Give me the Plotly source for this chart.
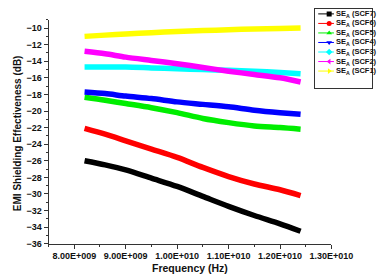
import plotly.graph_objects as go

# Frequency (GHz values converted to Hz)
freq_ghz = [8.2, 8.6, 9.0, 9.5, 10.0, 10.5, 11.0, 11.5, 12.0, 12.4]
freq = [f * 1e9 for f in freq_ghz]

scf7 = [-26.0, -26.5, -27.1, -28.1, -29.1, -30.3, -31.5, -32.6, -33.6, -34.5]
scf6 = [-22.1, -22.8, -23.6, -24.6, -25.6, -26.8, -27.9, -28.8, -29.5, -30.2]
scf5 = [-18.35, -18.7, -19.1, -19.6, -20.2, -20.9, -21.4, -21.8, -22.0, -22.2]
scf4 = [-17.7, -17.9, -18.2, -18.5, -18.9, -19.2, -19.5, -19.9, -20.2, -20.4]
scf3 = [-14.7, -14.7, -14.7, -14.8, -14.9, -15.0, -15.1, -15.2, -15.35, -15.5]
scf2 = [-12.8, -13.1, -13.5, -13.9, -14.3, -14.75, -15.2, -15.6, -16.0, -16.5]
scf1 = [-11.0, -10.85, -10.7, -10.55, -10.4, -10.3, -10.2, -10.1, -10.05, -10.0]

series_names = ["SCF7", "SCF6", "SCF5", "SCF4", "SCF3", "SCF2", "SCF1"]
series_values = [scf7, scf6, scf5, scf4, scf3, scf2, scf1]
colors = ["#000000", "#FF0000", "#00EE00", "#0000FF", "#00FFFF", "#FF00FF", "#FFFF00"]
symbols = ["square", "circle", "triangle-up", "triangle-down", "diamond",
           "triangle-left", "triangle-right"]

x_tickvals = [8e9, 9e9, 1e10, 1.1e10, 1.2e10, 1.3e10]
x_ticktext = ["8.00E+009", "9.00E+009", "1.00E+010", "1.10E+010", "1.20E+010", "1.30E+010"]
x_minor = [7.5e9, 8.5e9, 9.5e9, 1.05e10, 1.15e10, 1.25e10]

W, H = 386, 278
FONT = "Liberation Sans, Arial, sans-serif"

fig = go.Figure()

for name, vals, col in zip(series_names, series_values, colors):
    fig.add_trace(go.Scatter(
        x=freq, y=vals, mode="lines", name=name,
        line=dict(color=col, width=5.5, shape="spline", smoothing=0.8),
        showlegend=False, xaxis="x", yaxis="y"))

# custom compact legend (index-based rows)
for i, (name, col, sym) in enumerate(zip(series_names, colors, symbols)):
    fig.add_trace(go.Scatter(
        x=[0.05, 0.33], y=[i, i], mode="lines",
        line=dict(color=col, width=1), showlegend=False,
        xaxis="x2", yaxis="y2", hoverinfo="skip"))
    fig.add_trace(go.Scatter(
        x=[0.245], y=[i], mode="markers",
        marker=dict(color=col, symbol=sym, size=5, line=dict(width=0)),
        showlegend=False, xaxis="x2", yaxis="y2", hoverinfo="skip"))
    fig.add_annotation(
        x=0.34, y=i, xref="x2", yref="y2", xanchor="left", yanchor="middle",
        text="<b>SE<sub>A</sub> (%s)</b>" % name, showarrow=False,
        font=dict(size=7.5, color="#111111", family=FONT))

fig.update_layout(
    width=W, height=H,
    margin=dict(l=0, r=0, t=0, b=0),
    paper_bgcolor="white", plot_bgcolor="white",
    font=dict(family=FONT, color="#111111"),
    xaxis=dict(
        domain=[43 / W, 343 / W], range=[7.5e9, 1.3e10],
        tickmode="array", tickvals=x_tickvals, ticktext=x_ticktext,
        ticks="outside", ticklen=4, tickwidth=1, tickcolor="#333333",
        showline=True, linecolor="#333333", linewidth=1,
        showgrid=False, zeroline=False,
        tickfont=dict(size=9, family=FONT, color="#111111", weight="bold"),
        minor=dict(tickmode="array", tickvals=x_minor, ticks="outside",
                   ticklen=2, tickcolor="#333333", showgrid=False),
        anchor="y"),
    yaxis=dict(
        domain=[(H - 240) / H, (H - 12) / H], range=[-36, -9],
        tick0=0, dtick=2,
        ticks="outside", ticklen=4, tickwidth=1, tickcolor="#333333",
        showline=True, linecolor="#333333", linewidth=1,
        showgrid=False, zeroline=False,
        tickfont=dict(size=9, family=FONT, color="#111111", weight="bold"),
        minor=dict(dtick=1, ticks="outside", ticklen=2, tickcolor="#333333",
                   showgrid=False),
        anchor="x"),
    xaxis2=dict(
        domain=[326 / W, 385.5 / W], range=[0, 1], fixedrange=True,
        tickmode="array", tickvals=[], ticktext=[],
        showticklabels=False, ticks="", showgrid=False, zeroline=False,
        showline=True, mirror=True, linecolor="#333333", linewidth=1,
        anchor="y2"),
    yaxis2=dict(
        domain=[(H - 81) / H, (H - 1) / H], range=[7.73, -0.515],
        fixedrange=True,
        tickmode="array", tickvals=[], ticktext=[],
        showticklabels=False, ticks="", showgrid=False, zeroline=False,
        showline=True, mirror=True, linecolor="#333333", linewidth=1,
        anchor="x2"),
)

fig.add_annotation(
    x=193 / W, y=(H - 265) / H, xref="paper", yref="paper",
    text="<b>Frequency (Hz)</b>", showarrow=False,
    xanchor="center", yanchor="middle",
    font=dict(size=10.5, family=FONT, color="#111111"))
fig.add_annotation(
    x=10 / W, y=(H - 127) / H, xref="paper", yref="paper",
    text="<b>EMI Shielding Effectiveness (dB)</b>", showarrow=False,
    textangle=-90, xanchor="center", yanchor="middle",
    font=dict(size=10, family=FONT, color="#111111"))

fig.write_html("out.html")
